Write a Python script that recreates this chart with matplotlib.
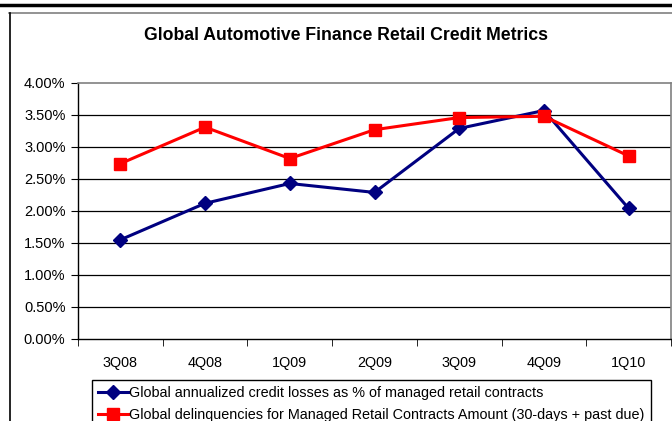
import matplotlib
matplotlib.use("Agg")
import matplotlib.pyplot as plt
from matplotlib.lines import Line2D

plt.rcParams['font.family'] = ['Liberation Sans', 'DejaVu Sans']

categories = ["3Q08", "4Q08", "1Q09", "2Q09", "3Q09", "4Q09", "1Q10"]
credit_losses = [1.55, 2.12, 2.43, 2.29, 3.29, 3.57, 2.04]
delinquencies = [2.74, 3.31, 2.82, 3.27, 3.46, 3.48, 2.86]
y_ticks = [0.0, 0.5, 1.0, 1.5, 2.0, 2.5, 3.0, 3.5, 4.0]
y_labels = ["%.2f%%" % v for v in y_ticks]
series_names = ["Global annualized credit losses as % of managed retail contracts",
                "Global delinquencies for Managed Retail Contracts Amount (30-days + past due)"]

W, H = 672, 421
fig = plt.figure(figsize=(W / 100, H / 100), dpi=100)

# decorations: thick top rule, chart frame
fig.add_artist(Line2D([0, 1], [1 - 5 / H, 1 - 5 / H], color='black', lw=2.5, transform=fig.transFigure))
fig.add_artist(Line2D([9 / W, 1], [1 - 12.5 / H, 1 - 12.5 / H], color='#808080', lw=1.2, transform=fig.transFigure))
fig.add_artist(Line2D([9.5 / W, 9.5 / W], [0, 1 - 12.5 / H], color='black', lw=1.2, transform=fig.transFigure))

ax = fig.add_axes([78 / W, 1 - 339 / H, (671 - 78) / W, (339 - 83) / H])
x = list(range(len(categories)))
ax.plot(x, credit_losses, color='#000080', lw=2.2, marker='D', markersize=7, label=series_names[0], zorder=3)
ax.plot(x, delinquencies, color='#FF0000', lw=2.2, marker='s', markersize=9, label=series_names[1], zorder=3)

ax.set_xlim(-0.5, len(categories) - 0.5)
ax.set_ylim(0, 4.0)
ax.set_yticks(y_ticks)
ax.set_yticklabels(y_labels, fontsize=10.5)
ax.set_xticks(x)
ax.set_xticklabels(categories, fontsize=10.4)
ax.tick_params(axis='x', length=0, pad=12)
ax.set_xticks([i + 0.5 for i in range(-1, len(categories))], minor=True)
ax.tick_params(axis='x', which='minor', length=5, direction='out', color='black')
ax.tick_params(axis='y', length=5, direction='out', pad=4)
for v in y_ticks[1:-1]:
    ax.axhline(v, color='black', lw=0.9, zorder=1)
for s in ['top', 'right']:
    ax.spines[s].set_color('#808080')
    ax.spines[s].set_linewidth(1.2)
for s in ['left', 'bottom']:
    ax.spines[s].set_color('black')
    ax.spines[s].set_linewidth(1.0)

fig.text(346 / W, 1 - 36 / H, "Global Automotive Finance Retail Credit Metrics",
         ha='center', va='center', fontsize=12.7, fontweight='bold')

leg = fig.legend(loc='upper left', bbox_to_anchor=(92 / W, 1 - 380 / H), fontsize=10.35,
                 frameon=True, fancybox=False, edgecolor='black', framealpha=1,
                 borderpad=0.4, handlelength=2.1, handletextpad=0.1, labelspacing=0.6,
                 borderaxespad=0)
leg.get_frame().set_linewidth(1.0)

fig.savefig("out.png", dpi=100, facecolor='white')
